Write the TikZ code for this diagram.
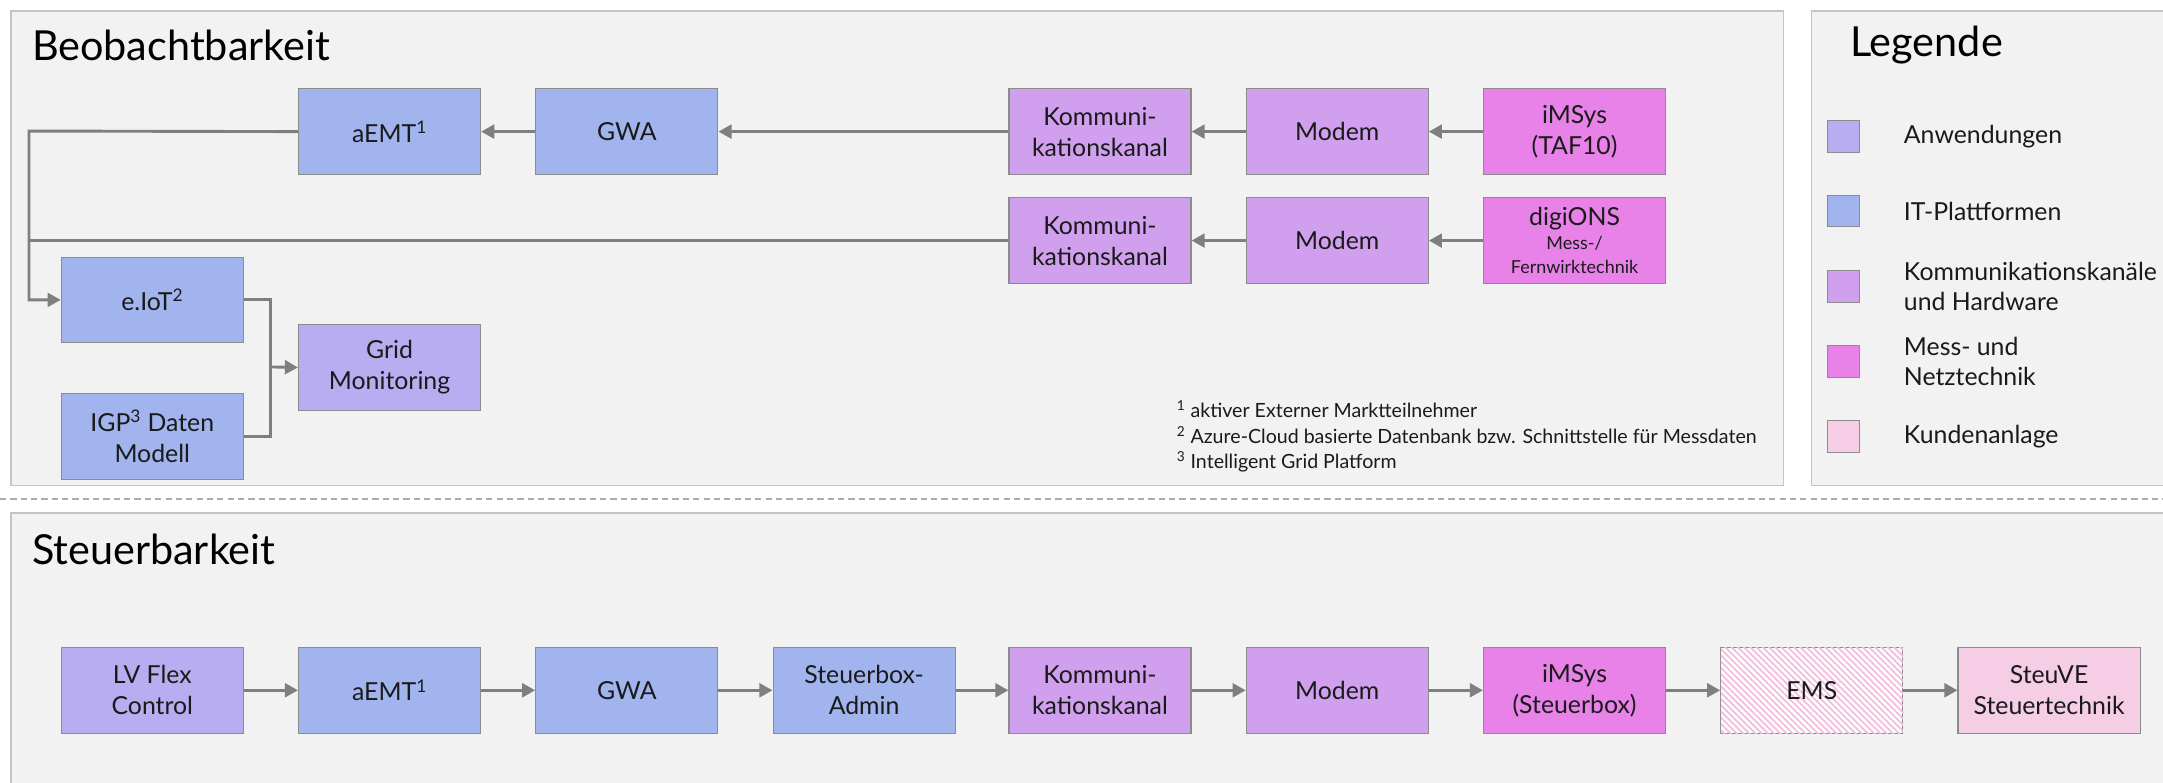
\documentclass[tikz,border=0pt]{standalone}
\usepackage{fontspec}
\setmainfont{Lato}
\usetikzlibrary{arrows.meta,patterns.meta}
\definecolor{panelbg}{HTML}{F2F2F2}
\definecolor{panelbd}{HTML}{C4C4C4}
\definecolor{appc}{HTML}{B7ADF0}
\definecolor{itc}{HTML}{A2B4EE}
\definecolor{comc}{HTML}{D0A0EE}
\definecolor{mesc}{HTML}{E882E8}
\definecolor{kunc}{HTML}{F5CDE5}
\definecolor{hatchc}{HTML}{F3BEDD}
\definecolor{linec}{HTML}{7F7F7F}
\definecolor{boxbd}{HTML}{8C8C8C}
\definecolor{txt}{HTML}{1A1A1A}
\definecolor{dashc}{HTML}{ABABAB}
\begin{document}
\begin{tikzpicture}[x=1pt,y=-1pt,
  panel/.style={draw=panelbd, fill=panelbg, line width=1.1pt},
  blk/.style={draw=boxbd, line width=0.8pt, minimum width=132pt, minimum height=62pt,
    inner sep=0pt, align=center, text=txt, anchor=north west,
    font=\fontsize{18}{22.5}\selectfont},
  app/.style={blk, fill=appc},
  itp/.style={blk, fill=itc},
  com/.style={blk, fill=comc},
  mes/.style={blk, fill=mesc},
  kun/.style={blk, fill=kunc},
  hatched/.style={blk, fill=white, postaction={pattern={Lines[angle=-45,distance=3.2pt,line width=1.3pt]}, pattern color=hatchc}},
  ln/.style={draw=linec, line width=2.1pt},
  arr/.style={ln, -{Triangle[length=9.5pt,width=10pt]}},
  ttl/.style={anchor=west, text=black, font=\fontsize{30}{34}\selectfont, inner sep=0pt},
  lgsq/.style={draw=boxbd, line width=0.8pt, minimum width=23pt, minimum height=23pt, inner sep=0pt},
  lgtx/.style={anchor=west, align=left, text=txt, inner sep=0pt, font=\fontsize{18}{22}\selectfont},
]
\useasboundingbox (0,0) rectangle (1568,567);
\clip (0,0) rectangle (1568,567);

% panels
\draw[panel] (8,8) rectangle (1293,352);
\draw[panel] (1313,8) rectangle (1590,352);
\draw[panel] (8,372) rectangle (1590,600);
\draw[draw=dashc, line width=1.5pt, dash pattern=on 4.5pt off 3pt] (0,362) -- (1568,362);

% titles
\node[ttl] (t1) at (23,33) {Beobachtbarkeit};
\node[ttl] (t2) at (1341,33) {Legende};
\node[ttl] (t3) at (23,398) {Steuerbarkeit};

% Beobachtbarkeit row 1
\node[itp] (aemt1) at (216,64) {aEMT\textsuperscript{1}};
\node[itp] (gwa1) at (388,64) {GWA};
\node[com] (kom1) at (731,64) {Kommuni-\\kationskanal};
\node[com] (mod1) at (903,64) {Modem};
\node[mes] (ims1) at (1075,64) {iMSys\\(TAF10)};

% row 2
\node[com] (kom2) at (731,143) {Kommuni-\\kationskanal};
\node[com] (mod2) at (903,143) {Modem};
\node[mes, font=\fontsize{13}{17.5}\selectfont] (dig) at (1075,143) {{\fontsize{18}{18}\selectfont digiONS}\\Mess-/\\Fernwirktechnik};

% left
\node[itp] (eiot) at (44,186) {e.IoT\textsuperscript{2}};
\node[itp] (igp) at (44,285) {IGP\textsuperscript{3} Daten\\Modell};
\node[app] (grid) at (216,235) {Grid\\Monitoring};

% connectors top
\draw[arr] (gwa1.west) -- (aemt1.east);
\draw[arr] (kom1.west) -- (gwa1.east);
\draw[arr] (mod1.west) -- (kom1.east);
\draw[arr] (ims1.west) -- (mod1.east);
\draw[arr] (mod2.west) -- (kom2.east);
\draw[arr] (dig.west) -- (mod2.east);
\coordinate (ja) at (21,95);
\draw[arr] (aemt1.west) -- (ja) |- (eiot.west);
\draw[ln] (kom2.west) -- (kom2.west -| ja);
\coordinate (jc) at (196,266);
\draw[ln] (eiot.east) -| (jc);
\draw[ln] (igp.east) -| (jc);
\draw[arr] (jc) -- (grid.west);

% footnotes
\node[anchor=west, align=left, inner sep=0pt, text=txt, font=\fontsize{14.2}{18.5}\selectfont] (fn) at (853,316.5)
  {\textsuperscript{1} aktiver Externer Marktteilnehmer\\
   \textsuperscript{2} Azure-Cloud basierte Datenbank bzw. Schnittstelle für Messdaten\\
   \textsuperscript{3} Intelligent Grid Platform};

% legend
\node[lgsq, fill=appc] (lg1) at (1336.5,99) {};
\node[lgsq, fill=itc] (lg2) at (1336.5,153) {};
\node[lgsq, fill=comc] (lg3) at (1336.5,207.5) {};
\node[lgsq, fill=mesc] (lg4) at (1336.5,262) {};
\node[lgsq, fill=kunc] (lg5) at (1336.5,316.5) {};
\node[lgtx] (lt1) at (1380,99) {Anwendungen};
\node[lgtx] (lt2) at (1380,153) {IT-Plattformen};
\node[lgtx] (lt3) at (1380,207.5) {Kommunikationskanäle\\und Hardware};
\node[lgtx] (lt4) at (1380,262) {Mess- und\\Netztechnik};
\node[lgtx] (lt5) at (1380,316.5) {Kundenanlage};

% Steuerbarkeit row
\node[app] (lv) at (44,469) {LV Flex\\Control};
\node[itp] (aemt2) at (216,469) {aEMT\textsuperscript{1}};
\node[itp] (gwa2) at (388,469) {GWA};
\node[itp] (sba) at (560,469) {Steuerbox-\\Admin};
\node[com] (kom3) at (731,469) {Kommuni-\\kationskanal};
\node[com] (mod3) at (903,469) {Modem};
\node[mes] (ims2) at (1075,469) {iMSys\\(Steuerbox)};
\node[hatched] (ems) at (1247,469) {EMS};
\node[kun] (stv) at (1419,469) {SteuVE\\Steuertechnik};
\draw[arr] (lv.east) -- (aemt2.west);
\draw[arr] (aemt2.east) -- (gwa2.west);
\draw[arr] (gwa2.east) -- (sba.west);
\draw[arr] (sba.east) -- (kom3.west);
\draw[arr] (kom3.east) -- (mod3.west);
\draw[arr] (mod3.east) -- (ims2.west);
\draw[arr] (ims2.east) -- (ems.west);
\draw[arr] (ems.east) -- (stv.west);
\end{tikzpicture}
\end{document}
